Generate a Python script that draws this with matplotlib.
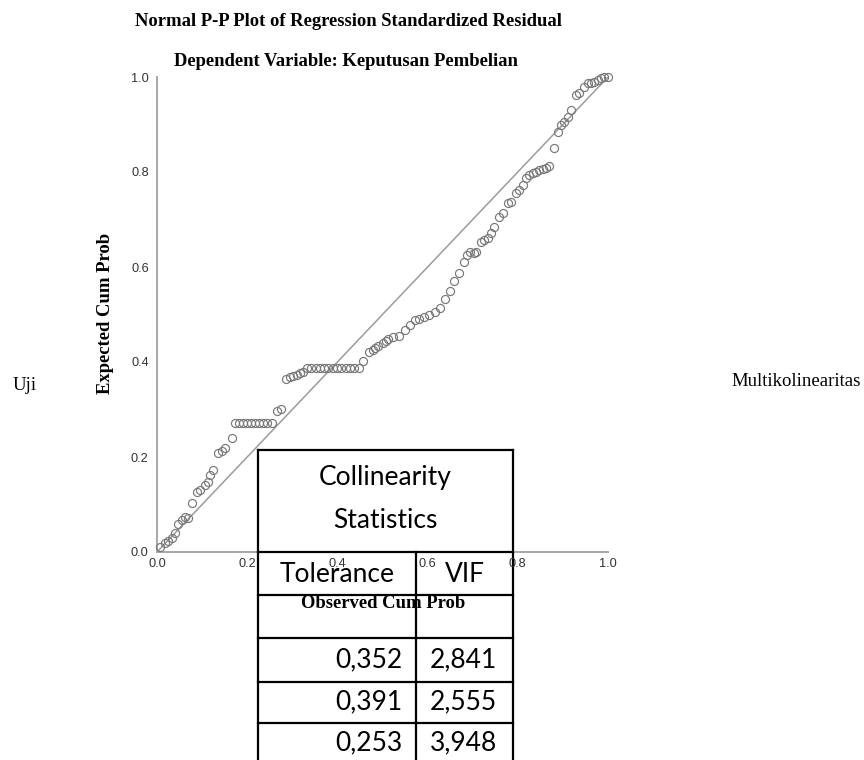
import matplotlib
matplotlib.use("Agg")
import matplotlib.pyplot as plt
from matplotlib.patches import Rectangle
from matplotlib.lines import Line2D

# ---------------- data ----------------
observed_cum_prob = [
    0.007, 0.018, 0.024, 0.033, 0.040, 0.047, 0.056, 0.062, 0.068, 0.078,
    0.089, 0.096, 0.107, 0.113, 0.118, 0.124, 0.136, 0.144, 0.151, 0.167,
    0.173, 0.182, 0.191, 0.200, 0.209, 0.218, 0.227, 0.236, 0.245, 0.256,
    0.267, 0.276,
    0.287, 0.296, 0.302, 0.311, 0.318, 0.324,
    0.333, 0.342, 0.352, 0.361, 0.371, 0.380, 0.390, 0.399, 0.409, 0.418,
    0.428, 0.437, 0.447,
    0.456, 0.469, 0.478, 0.484, 0.491, 0.500, 0.507,
    0.513, 0.524, 0.536, 0.549, 0.560, 0.571, 0.582, 0.593, 0.604, 0.616,
    0.627, 0.638, 0.649, 0.658, 0.669, 0.680,
    0.687, 0.693, 0.702, 0.707, 0.718, 0.724, 0.733, 0.740, 0.747, 0.758,
    0.767, 0.778, 0.784, 0.796, 0.802, 0.811, 0.818, 0.824, 0.833, 0.840,
    0.847, 0.856, 0.862, 0.869, 0.880, 0.889, 0.896, 0.902, 0.911, 0.918,
    0.929, 0.936, 0.947, 0.956, 0.962, 0.969, 0.978, 0.984, 0.991, 1.000,
]
expected_cum_prob = [
    0.010, 0.018, 0.023, 0.030, 0.040, 0.060, 0.067, 0.074, 0.072, 0.103,
    0.126, 0.131, 0.142, 0.147, 0.162, 0.172, 0.208, 0.213, 0.220, 0.240,
    0.272, 0.272, 0.272, 0.272, 0.272, 0.272, 0.272, 0.272, 0.272, 0.272,
    0.297, 0.301,
    0.364, 0.368, 0.371, 0.373, 0.377, 0.378,
    0.387, 0.387, 0.387, 0.387, 0.387, 0.387, 0.387, 0.387, 0.387, 0.387,
    0.387, 0.387, 0.387,
    0.402, 0.421, 0.425, 0.430, 0.433, 0.440, 0.444,
    0.448, 0.453, 0.455, 0.467, 0.478, 0.488, 0.490, 0.495, 0.499, 0.505,
    0.514, 0.533, 0.549, 0.571, 0.587, 0.611,
    0.625, 0.632, 0.630, 0.632, 0.653, 0.657, 0.661, 0.672, 0.684, 0.705,
    0.714, 0.735, 0.737, 0.756, 0.762, 0.773, 0.787, 0.794, 0.798, 0.800,
    0.804, 0.806, 0.808, 0.813, 0.851, 0.884, 0.899, 0.905, 0.916, 0.931,
    0.962, 0.966, 0.979, 0.987, 0.987, 0.989, 0.994, 0.998, 1.000, 1.000,
]
tick_values = [0.0, 0.2, 0.4, 0.6, 0.8, 1.0]
tick_labels = ["0.0", "0.2", "0.4", "0.6", "0.8", "1.0"]

title_1 = "Normal P-P Plot of Regression Standardized Residual"
title_2 = "Dependent Variable: Keputusan Pembelian"
x_label = "Observed Cum Prob"
y_label = "Expected Cum Prob"
left_text = "Uji"
right_text = "Multikolinearitas"

table_header = ["Collinearity", "Statistics"]
table_columns = ["Tolerance", "VIF"]
tolerance_values = ["0,352", "0,391", "0,253"]
vif_values = ["2,841", "2,555", "3,948"]

# ---------------- layout helpers ----------------
W, H = 864, 760
def fx(px):
    return px / W
def fy(py):
    return 1 - py / H

SERIF = "Liberation Serif"
SANS = "Liberation Sans"
TABLE_FONT = "Lato"

fig = plt.figure(figsize=(W / 100, H / 100), dpi=100)
fig.patch.set_facecolor("white")
ax = fig.add_axes([fx(157), fy(552), 451 / W, 475 / H])
ax.set_xlim(0, 1)
ax.set_ylim(0, 1)
ax.set_autoscale_on(False)

# diagonal reference line
ax.plot([0, 1], [0, 1], color="#9c9c9c", lw=1.1, zorder=2, solid_capstyle="butt")
# points
ax.plot(observed_cum_prob, expected_cum_prob, linestyle="none", marker="o",
        markersize=5.8, markerfacecolor="none", markeredgecolor="#787878",
        markeredgewidth=0.85, zorder=3, clip_on=False)

for s in ["top", "right"]:
    ax.spines[s].set_visible(False)
for s in ["left", "bottom"]:
    ax.spines[s].set_color("#a8a8a8")
    ax.spines[s].set_linewidth(1.4)

ax.set_xticks(tick_values)
ax.set_xticklabels(tick_labels)
ax.set_yticks(tick_values)
ax.set_yticklabels(tick_labels)
ax.tick_params(axis="both", length=0, labelsize=9.2, labelcolor="#333333")
ax.tick_params(axis="x", pad=4)
ax.tick_params(axis="y", pad=6)
for lab in ax.get_xticklabels() + ax.get_yticklabels():
    lab.set_fontfamily(SANS)
ax.xaxis.set_zorder(10)

# titles and axis labels
fig.text(fx(348), fy(21), title_1, ha="center", va="center",
         family=SERIF, weight="bold", size=13.4)
fig.text(fx(346), fy(62), title_2, ha="center", va="center",
         family=SERIF, weight="bold", size=13.4)
fig.text(fx(106), fy(313), y_label, ha="center", va="center", rotation=90,
         family=SERIF, weight="bold", size=13.4)
ax.text(fx(383), fy(603), x_label, ha="center", va="center",
        transform=fig.transFigure, family=SERIF, weight="bold", size=13.4,
        zorder=12, clip_on=False)

# side texts
fig.text(fx(13), fy(386), left_text, ha="left", va="center",
         family=SERIF, size=13.5)
fig.text(fx(861), fy(382), right_text, ha="right", va="center",
         family=SERIF, size=13.5)

# ---------------- table ----------------
tl, tr, tdiv = 258, 513, 416
rows_y = [450, 552, 595, 638, 682, 723]
bottom = 770
T = fig.transFigure
ax.add_artist(Rectangle((fx(tl), fy(bottom)), fx(tr) - fx(tl), fy(rows_y[0]) - fy(bottom),
                        transform=T, facecolor="white", edgecolor="none",
                        zorder=5, clip_on=False))
lw = 1.6
for yy in rows_y:
    ax.add_artist(Line2D([fx(tl), fx(tr)], [fy(yy), fy(yy)], transform=T,
                         color="black", lw=lw, zorder=6, clip_on=False))
for xx in [tl, tr]:
    ax.add_artist(Line2D([fx(xx), fx(xx)], [fy(rows_y[0]), fy(bottom)], transform=T,
                         color="black", lw=lw, zorder=6, clip_on=False))
ax.add_artist(Line2D([fx(tdiv), fx(tdiv)], [fy(rows_y[1]), fy(bottom)], transform=T,
                     color="black", lw=lw, zorder=6, clip_on=False))

tkw = dict(transform=T, family=TABLE_FONT, size=19, zorder=7, clip_on=False, color="black")
ax.text(fx((tl + tr) / 2), fy(478), table_header[0], ha="center", va="center", **tkw)
ax.text(fx((tl + tr) / 2), fy(520), table_header[1], ha="center", va="center", **tkw)
ax.text(fx((tl + tdiv) / 2), fy(574), table_columns[0], ha="center", va="center", **tkw)
ax.text(fx((tdiv + tr) / 2), fy(574), table_columns[1], ha="center", va="center", **tkw)
row_centers = [660, 702, 743]
for yc, tol, vif in zip(row_centers, tolerance_values, vif_values):
    ax.text(fx(402), fy(yc), tol, ha="right", va="center", **tkw)
    ax.text(fx(497), fy(yc), vif, ha="right", va="center", **tkw)

fig.savefig("out.png", dpi=100, facecolor="white")
